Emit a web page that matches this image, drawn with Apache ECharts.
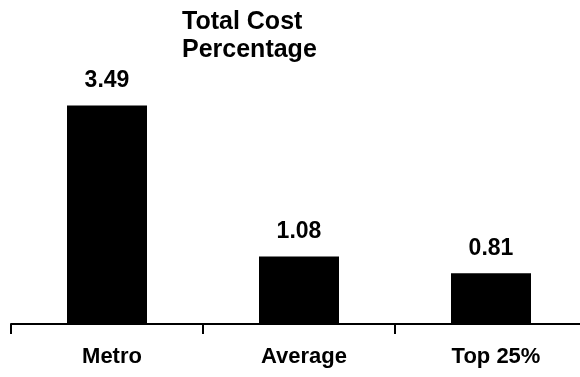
<!DOCTYPE html>
<html>
<head>
<meta charset="utf-8">
<script src="https://cdn.jsdelivr.net/npm/echarts@6/dist/echarts.min.js"></script>
<style>
  html, body { margin: 0; padding: 0; background: #fff; }
  #chart { width: 580px; height: 377px; }
</style>
</head>
<body>
<div id="chart"></div>
<script>
// Cost comparison data
var categories = ['Metro', 'Average', 'Top 25%'];
var costPercentage = [3.49, 1.08, 0.81];
var titleLines = ['Total Cost', 'Percentage'];

var chart = echarts.init(document.getElementById('chart'), null, { renderer: 'canvas' });

var FONT = 'Liberation Sans, Arial, Helvetica, sans-serif';

chart.setOption({
  animation: false,
  backgroundColor: '#ffffff',
  title: {
    text: titleLines.join('\n'),
    left: 182,
    top: 8,
    padding: 0,
    textStyle: {
      fontFamily: FONT,
      fontSize: 25,
      fontWeight: 'bold',
      lineHeight: 28,
      color: '#000'
    }
  },
  grid: {
    left: 11,
    width: 576,
    top: 11,
    bottom: 53,
    containLabel: false,
    outerBoundsMode: 'none'
  },
  xAxis: {
    type: 'category',
    data: categories,
    boundaryGap: true,
    axisLine: { show: true, lineStyle: { color: '#000', width: 2 } },
    axisTick: { show: true, inside: false, length: 10, lineStyle: { color: '#000', width: 2 } },
    axisLabel: {
      margin: 22,
      fontFamily: FONT,
      fontSize: 22,
      fontWeight: 'bold',
      color: '#000',
      padding: [0, 0, 0, 10]
    },
    splitLine: { show: false }
  },
  yAxis: {
    type: 'value',
    min: 0,
    max: 5,
    show: false,
    splitLine: { show: false }
  },
  series: [{
    type: 'bar',
    data: costPercentage,
    barWidth: 80,
    itemStyle: { color: '#000' },
    label: {
      show: true,
      position: 'top',
      distance: 13,
      fontFamily: FONT,
      fontSize: 23,
      fontWeight: 'bold',
      color: '#000',
      formatter: function (p) { return p.value.toFixed(2); }
    }
  }]
});
</script>
</body>
</html>
